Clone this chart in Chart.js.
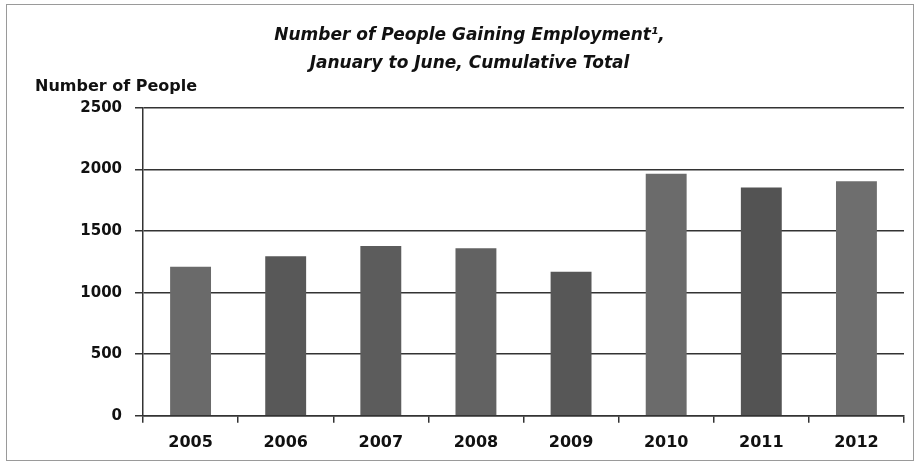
<!DOCTYPE html>
<html>
<head>
<meta charset="utf-8">
<script src="https://cdn.jsdelivr.net/npm/chart.js@4"></script>
<style>
    html, body { margin: 0; padding: 0; background: #fff; }
    #wrap { position: relative; width: 917px; height: 463px; }
</style>
</head>
<body>
<div id="wrap"><canvas id="myChart"></canvas></div>
<script>
const years  = ['2005', '2006', '2007', '2008', '2009', '2010', '2011', '2012'];
const people = [1210, 1295, 1380, 1360, 1170, 1965, 1855, 1905];
const yTicks = [0, 500, 1000, 1500, 2000, 2500];
const titleLines = ['Number of People Gaining Employment\u00b9,', 'January to June, Cumulative Total'];
const yLabel = 'Number of People';

const barColors = ['#6a6a6a', '#585858', '#5c5c5c', '#626262', '#575757', '#6b6b6b', '#535353', '#6e6e6e'];
const dark = '#333';

// grey frame round the whole picture
const frame = {
    id: 'frame',
    beforeDraw(chart) {
        const c = chart.ctx;
        c.save();
        c.fillStyle = '#fff';
        c.fillRect(0, 0, chart.width, chart.height);
        c.strokeStyle = '#9a9a9a';
        c.lineWidth = 1;
        c.strokeRect(6.5, 4.5, chart.width - 10, chart.height - 7);
        c.restore();
    }
};

const ctx = document.getElementById('myChart');

new Chart(ctx, {
    type: 'bar',
    data: {
        labels  : years,
        datasets: [
            {
                label          : yLabel,
                data           : people,
                backgroundColor: barColors,
                borderWidth    : 0,
                barPercentage  : 0.43,
                categoryPercentage: 1
            }
        ]
    },
    options: {
        responsive: true,
        maintainAspectRatio: false,
        animation: false,
        layout: {
            padding: { left: 35, right: 13, top: 0, bottom: 1 }
        },
        plugins: {
            legend : { display: false },
            tooltip: { enabled: false },
            title  : {
                display: true,
                text   : titleLines,
                color  : '#111',
                font   : { family: 'DejaVu Sans', size: 17, weight: 'bold', style: 'italic', lineHeight: '27.5px' },
                padding: { top: 22, bottom: 0 }
            },
            subtitle: {
                display: true,
                text   : yLabel,
                align  : 'start',
                color  : '#111',
                font   : { family: 'DejaVu Sans', size: 16, weight: 'bold', lineHeight: '19px' },
                padding: { top: 0, bottom: 12 }
            }
        },
        scales: {
            x: {
                offset: true,
                grid  : {
                    offset         : true,
                    drawOnChartArea: false,
                    color          : dark,
                    tickLength     : 7,
                    lineWidth      : 1.5
                },
                border: { display: true, color: dark, width: 1.5 },
                ticks : {
                    color  : '#111',
                    padding: 10,
                    font   : { family: 'DejaVu Sans', size: 16, weight: 'bold' }
                }
            },
            y: {
                min   : 0,
                max   : 2500,
                afterBuildTicks: (scale) => {
                    scale.ticks = yTicks.map(v => ({ value: v }));
                },
                afterFit: (scale) => {
                    scale.width = 108;
                },
                grid  : {
                    color     : dark,
                    lineWidth : 1.5,
                    tickLength: 8
                },
                border: { display: true, color: dark, width: 1.5 },
                ticks : {
                    color   : '#111',
                    padding : 13,
                    callback: (v) => String(v),
                    font    : { family: 'DejaVu Sans', size: 15, weight: 'bold' }
                }
            }
        }
    },
    plugins: [frame]
});
</script>
</body>
</html>
